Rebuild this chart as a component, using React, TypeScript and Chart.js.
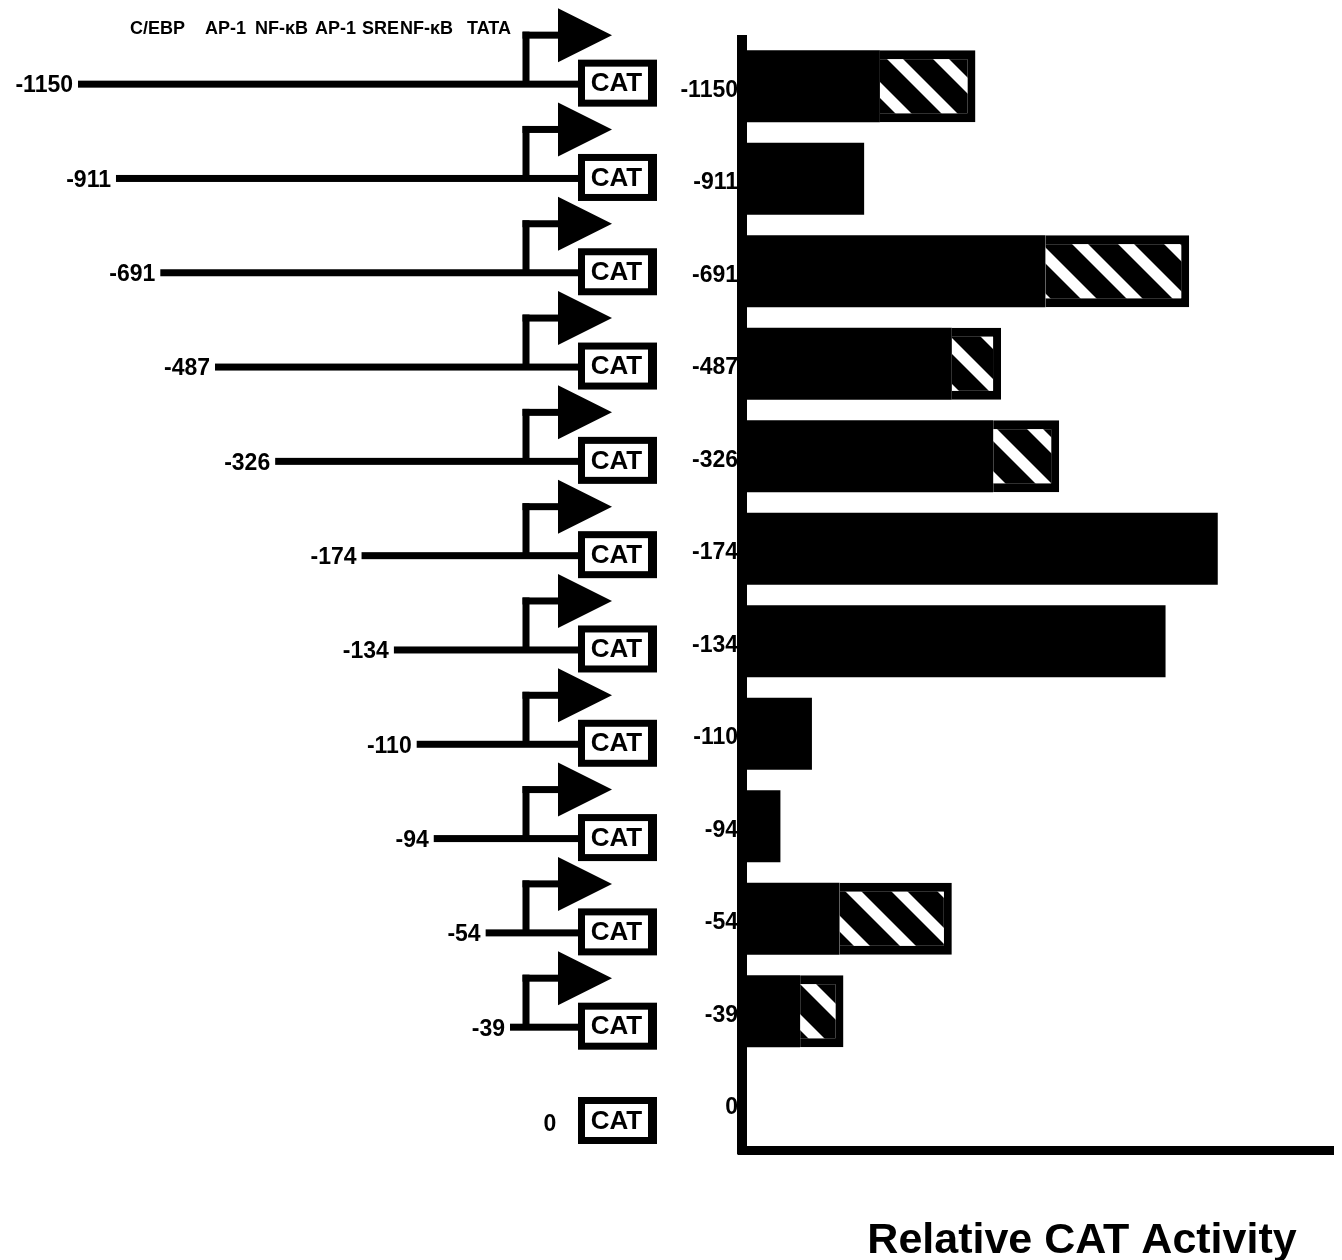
import { useEffect, useRef } from "react";
import { Chart, registerables } from "chart.js";

Chart.register(...registerables);

// Deletion constructs, named by their 5' end relative to the start site
const constructs = ["-1150", "-911", "-691", "-487", "-326", "-174", "-134", "-110", "-94", "-54", "-39", "0"];
const fivePrimeEnds = [-1150, -911, -691, -487, -326, -174, -134, -110, -94, -54, -39, 0];

// Relative CAT activity: solid part ends at activityLow, hatched range runs to activityHigh
const activityLow = [1.4, 1.24, 3.08, 2.13, 2.55, 4.83, 4.3, 0.71, 0.39, 0.99, 0.59, 0];
const activityHigh = [2.37, 1.24, 4.54, 2.63, 3.22, 4.83, 4.3, 0.71, 0.39, 2.13, 1.03, 0];

// Promoter elements named above the map
const elementLabels = ["C/EBP", "AP-1", "NF-\u03baB", "AP-1", "SRE", "NF-\u03baB", "TATA"];
const reporterName = "CAT";
const axisTitle = "Relative CAT Activity";

const FONT = "'Liberation Sans', Arial, Helvetica, sans-serif";

// Layout of the promoter schematic (pixels)
const ELEMENT_X = [130, 205, 255, 315, 362, 400, 467];
const MAP_LEFT = 78;
const MAP_RIGHT = 510;
const MAP_OFFSET = 60;
const STEM_X = 526;
const RISE = 49;
const TRI_X = 558;
const TRI_TIP = 612;
const TRI_HALF = 27;
const BOX_X = 578;
const BOX_W = 79;
const BOX_H = 47;
const BOX_BORDER = 7;
const ROW_STRETCH = 1.0195;

function makeHatch(): CanvasPattern | string {
  const s = 46;
  const c = document.createElement("canvas");
  c.width = s;
  c.height = s;
  const g = c.getContext("2d");
  if (!g) return "#000";
  g.fillStyle = "#000";
  g.fillRect(0, 0, s, s);
  g.fillStyle = "#fff";
  const w = 16;
  for (const o of [-s, 0, s]) {
    g.beginPath();
    g.moveTo(o, 0);
    g.lineTo(o + w, 0);
    g.lineTo(o + w + s, s);
    g.lineTo(o + s, s);
    g.closePath();
    g.fill();
  }
  return g.createPattern(c, "repeat") ?? "#000";
}

const promoterMapPlugin = {
  id: "promoterMap",
  afterDraw(chart: any) {
    const ctx: CanvasRenderingContext2D = chart.ctx;
    const y = chart.scales.y;
    const map = chart.scales.map;
    const area = chart.chartArea;
    ctx.save();
    ctx.fillStyle = "#000";

    // close the corner where the two axis lines meet
    ctx.fillRect(area.left - 5, area.bottom - 4.5, 10, 9);

    // element names
    ctx.font = `bold 18px ${FONT}`;
    ctx.textAlign = "left";
    ctx.textBaseline = "middle";
    elementLabels.forEach((t, k) => ctx.fillText(t, ELEMENT_X[k], 29));

    constructs.forEach((label, i) => {
      const yc = y.getPixelForValue(i);
      const mid = area.top + (yc - area.top) * ROW_STRETCH - 4;
      const L = mid + 1;

      // reporter box
      ctx.fillStyle = "#000";
      ctx.fillRect(BOX_X, mid - BOX_H / 2, BOX_W, BOX_H);
      ctx.fillStyle = "#fff";
      ctx.fillRect(BOX_X + BOX_BORDER, mid - BOX_H / 2 + BOX_BORDER, BOX_W - 2 * BOX_BORDER - 2, BOX_H - 2 * BOX_BORDER);
      ctx.fillStyle = "#000";
      ctx.font = `bold 26px ${FONT}`;
      ctx.textAlign = "center";
      ctx.textBaseline = "middle";
      ctx.fillText(reporterName, BOX_X + BOX_W / 2 - 1, mid + 1);

      ctx.font = `bold 23px ${FONT}`;
      const end = fivePrimeEnds[i];
      if (end === 0) {
        ctx.textAlign = "center";
        ctx.fillText(label, 550, L + 3);
        return;
      }

      // upstream region drawn from the 5' end to the reporter
      const dec = map.getDecimalForPixel(map.getPixelForValue(Math.abs(end) + MAP_OFFSET));
      const x0 = MAP_RIGHT - dec * (MAP_RIGHT - MAP_LEFT);
      ctx.fillRect(x0, L - 3.5, BOX_X - x0, 7);
      ctx.textAlign = "right";
      ctx.fillText(label, x0 - 5, L + 2);

      // transcription start arrow
      const top = L - RISE;
      ctx.fillRect(STEM_X - 3.5, top - 3.5, 7, L - top + 3.5);
      ctx.fillRect(STEM_X - 3.5, top - 3.5, TRI_X - STEM_X + 5, 7);
      ctx.beginPath();
      ctx.moveTo(TRI_X, top - TRI_HALF);
      ctx.lineTo(TRI_TIP, top);
      ctx.lineTo(TRI_X, top + TRI_HALF);
      ctx.closePath();
      ctx.fill();
    });

    // axis title
    ctx.font = `bold 43px ${FONT}`;
    ctx.textAlign = "center";
    ctx.textBaseline = "alphabetic";
    ctx.fillText(axisTitle, 1082, 1253);
    ctx.restore();
  },
};

export default function App() {
  const canvasRef = useRef<HTMLCanvasElement | null>(null);

  useEffect(() => {
    const canvas = canvasRef.current;
    if (!canvas) return;
    const hatch = makeHatch();
    const spread = activityHigh.map((v, i) => +(v - activityLow[i]).toFixed(3));
    const nonZero = fivePrimeEnds.filter((e) => e !== 0).map((e) => Math.abs(e));

    const chart = new Chart(canvas, {
      type: "bar",
      data: {
        labels: constructs,
        datasets: [
          {
            label: "activity",
            data: activityLow,
            backgroundColor: "#000",
            borderWidth: 0,
            barPercentage: 0.78,
            categoryPercentage: 1,
          },
          {
            label: "range",
            data: spread,
            backgroundColor: hatch as any,
            borderColor: "#000",
            borderWidth: { top: 9, bottom: 9, right: 8, left: 0 },
            borderSkipped: false,
            barPercentage: 0.78,
            categoryPercentage: 1,
          },
        ],
      },
      options: {
        indexAxis: "y",
        animation: false,
        responsive: false,
        devicePixelRatio: 1,
        layout: { padding: { left: 0, right: 9, top: 40, bottom: 110 } },
        plugins: {
          legend: { display: false },
          tooltip: { enabled: false },
          title: { display: false },
        },
        scales: {
          x: {
            type: "linear",
            stacked: true,
            min: 0,
            max: 6,
            grid: { display: false, drawTicks: false },
            ticks: { display: false },
            border: { display: true, color: "#000", width: 9 },
            afterFit: (s: any) => {
              s.height = 0;
            },
          },
          map: {
            type: "logarithmic",
            axis: "x",
            display: false,
            min: Math.min(...nonZero) + MAP_OFFSET,
            max: Math.max(...nonZero) + MAP_OFFSET,
          },
          y: {
            type: "category",
            stacked: true,
            offset: true,
            grid: { display: false, drawTicks: false },
            border: { display: true, color: "#000", width: 10 },
            ticks: {
              color: "#000",
              padding: 4,
              labelOffset: 4,
              font: { family: FONT, size: 23, weight: "bold" },
            },
            afterFit: (s: any) => {
              s.width = 742;
            },
          },
        } as any,
      },
      plugins: [promoterMapPlugin],
    });
    return () => chart.destroy();
  }, []);

  return (
    <div style={{ position: "absolute", left: 0, top: 0, width: 1342, height: 1260, background: "#fff" }}>
      <canvas ref={canvasRef} width={1342} height={1260} style={{ display: "block" }} />
    </div>
  );
}
